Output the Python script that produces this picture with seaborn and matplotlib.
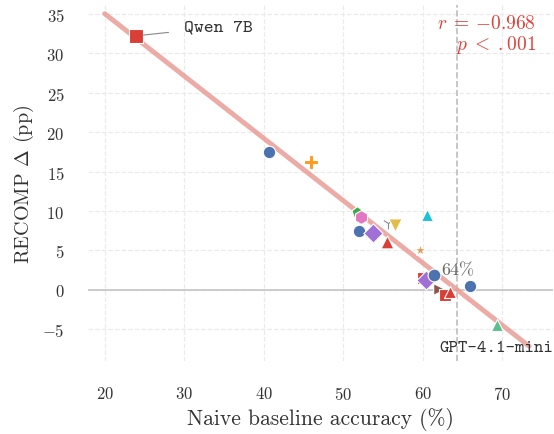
import numpy as np
import pandas as pd
import matplotlib
matplotlib.use("Agg")
import matplotlib.pyplot as plt
import seaborn as sns

# ---- data ----
models = ["Qwen 7B", "m2", "m3", "m4", "m5", "m6", "m7", "m8", "m9", "m10",
          "m11", "m12", "m13", "m14", "m15", "m16", "m17", "m18", "m19", "GPT-4.1-mini"]
baseline = [24.0, 40.7, 46.0, 51.8, 52.2, 52.0, 53.8, 55.5, 55.6, 56.5,
            60.6, 59.7, 60.0, 60.4, 61.4, 62.0, 62.8, 63.5, 66.0, 69.4]
delta = [32.2, 17.5, 16.2, 9.9, 9.2, 7.5, 7.2, 6.1, 8.5, 8.2,
         9.5, 5.0, 1.5, 1.2, 1.9, 0.1, -0.6, -0.3, 0.5, -4.5]
x_ticks = [20, 30, 40, 50, 60, 70]
y_ticks = [-5, 0, 5, 10, 15, 20, 25, 30, 35]
stats_text = "$r\\;=\\,{-}0.968$\n$p\\;<\\;.001$"

# ---- styles ----
colors = ["#D93F36", "#4C72B0", "#FF9A1A", "#3DAA4A", "#E377C2", "#4C72B0", "#A070D6", "#D93F36",
          "#8A8A8A", "#E2BE48", "#1CC3D6", "#E0A060", "#D93F36", "#A070D6", "#4C72B0", "#8C564B",
          "#D93F36", "#D93F36", "#4C72B0", "#5BC08E"]
markers = ["s", "o", "P", "p", "h", "o", "D", "^", "1", "v",
           "^", "*", "s", "D", "o", ">", "s", "^", "o", "^"]
sizes = [100, 80, 100, 70, 100, 80, 95, 85, 70, 90,
         75, 80, 75, 95, 85, 70, 75, 75, 80, 75]

df = pd.DataFrame({"model": models, "baseline": baseline, "delta": delta})

sns.set_theme(style="whitegrid")
plt.rcParams.update({
    "font.family": "serif",
    "font.serif": ["cmr10"],
    "mathtext.fontset": "cm",
    "axes.formatter.use_mathtext": True,
    "grid.linestyle": "--",
    "grid.color": "#ebebeb",
    "grid.linewidth": 0.9,
})

fig = plt.figure(figsize=(5.54, 4.35), dpi=100)
ax = fig.add_axes([88 / 554, (435 - 362) / 435, 465 / 554, 356 / 435])

# regression line over [min-4, max+4]
xa = np.array(baseline)
ya = np.array(delta)
slope, intercept = np.polyfit(xa, ya, 1)
xs = np.linspace(xa.min() - 4, xa.max() + 4, 100)
sns.lineplot(x=xs, y=slope * xs + intercept, ax=ax, color="#EA9C95", lw=3.5, alpha=0.85, zorder=2)

x_zero = -intercept / slope
ax.axhline(0, color="#c4c4c4", lw=1.2, zorder=1)
ax.axvline(x_zero, color="#bdbdbd", lw=1.2, ls="--", zorder=1)

for i, row in df.iterrows():
    sns.scatterplot(x=[row["baseline"]], y=[row["delta"]], ax=ax, marker=markers[i],
                    color=colors[i], s=sizes[i], edgecolor="white", linewidth=0.8,
                    zorder=3, legend=False)

ax.text(x_zero, 2.6, f"{x_zero:.0f}%", ha="center", va="center", color="#666666",
        fontsize=13, zorder=4)

ax.annotate("Qwen 7B", xy=(baseline[0], delta[0]), xytext=(30.0, 33.3),
            va="center", ha="left", family="cmtt10", fontsize=13.5, color="#333333",
            arrowprops=dict(arrowstyle="-", color="#888888", lw=0.8, shrinkA=9, shrinkB=5))
ax.text(62.1, -7.35, "GPT-4.1-mini", ha="left", va="center", family="cmtt10",
        fontsize=13, color="#333333")

ax.text(0.963, 0.975, stats_text, transform=ax.transAxes, ha="right", va="top",
        color="#E0403A", fontsize=14, multialignment="right", linespacing=1.05)

ax.set_xlim(17.9, 76.4)
ax.set_ylim(-9.0, 36.1)
ax.set_xticks(x_ticks)
ax.set_yticks(y_ticks)
ax.tick_params(axis="both", length=0, pad=17, labelsize=12, labelcolor="#333333")
ax.set_xlabel("Naive baseline accuracy (%)", fontsize=15.5, color="#333333", labelpad=4)
ax.set_ylabel(r"RECOMP $\Delta$ (pp)", fontsize=14.5, color="#333333")
for s in ax.spines.values():
    s.set_visible(False)

fig.savefig("out.png", dpi=100)
